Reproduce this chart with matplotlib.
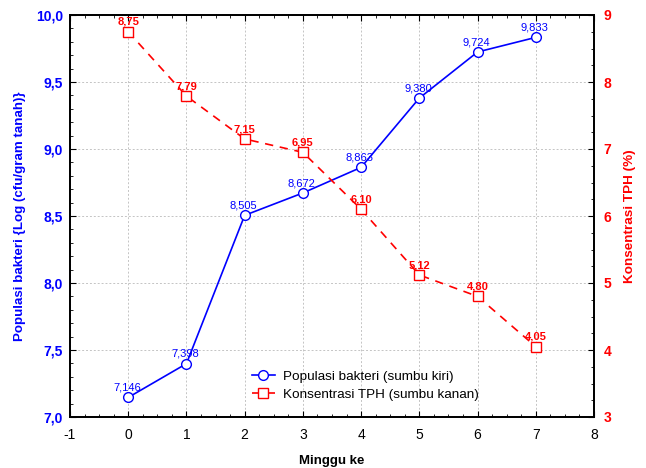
import matplotlib
matplotlib.use("Agg")
import matplotlib.pyplot as plt
from matplotlib.ticker import MultipleLocator, FuncFormatter

plt.rcParams['font.family'] = ['Liberation Sans', 'DejaVu Sans']

weeks = [0, 1, 2, 3, 4, 5, 6, 7]
bakteri = [7.146, 7.398, 8.505, 8.672, 8.863, 9.380, 9.724, 9.833]
tph = [8.75, 7.79, 7.15, 6.95, 6.10, 5.12, 4.80, 4.05]
bakteri_labels = ["7,146", "7,398", "8,505", "8,672", "8,863", "9,380", "9,724", "9,833"]
tph_labels = ["8,75", "7,79", "7,15", "6,95", "6,10", "5,12", "4,80", "4,05"]

blue = "#0000ff"
red = "#ff0000"

fig = plt.figure(figsize=(6.46, 4.68), dpi=100)
ax = fig.add_axes([70/646, 51/468, 524/646, 402/468])
ax2 = ax.twinx()

l1, = ax.plot(weeks, bakteri, '-', color=blue, lw=1.2, marker='o', ms=7,
              mfc='white', mec=blue, mew=1.0, label='Populasi bakteri (sumbu kiri)', zorder=3)
l2, = ax2.plot(weeks, tph, '--', color=red, lw=1.2, marker='s', ms=7,
               mfc='white', mec=red, mew=1.0, dashes=(5, 4),
               label='Konsentrasi TPH (sumbu kanan)', zorder=3)

for x, y, s in zip(weeks, bakteri, bakteri_labels):
    ax.annotate(s, (x, y), xytext=(-1, 3.5), textcoords='offset points',
                ha='center', va='bottom', fontsize=8, color=blue)
for x, y, s in zip(weeks, tph, tph_labels):
    ax2.annotate(s, (x, y), xytext=(0, 3.5), textcoords='offset points',
                 ha='center', va='bottom', fontsize=8, color=red, fontweight='bold')

ax.set_xlim(-1, 8)
ax.set_ylim(7.0, 10.0)
ax2.set_ylim(3, 9)

ax.xaxis.set_major_locator(MultipleLocator(1))
ax.xaxis.set_minor_locator(MultipleLocator(0.25))
ax.yaxis.set_major_locator(MultipleLocator(0.5))
ax.yaxis.set_minor_locator(MultipleLocator(0.1))
ax2.yaxis.set_major_locator(MultipleLocator(1))
ax2.yaxis.set_minor_locator(MultipleLocator(0.25))

ax.yaxis.set_major_formatter(FuncFormatter(lambda v, p: f"{v:.1f}".replace('.', ',')))
ax.xaxis.set_major_formatter(FuncFormatter(lambda v, p: f"{int(round(v))}"))
ax2.yaxis.set_major_formatter(FuncFormatter(lambda v, p: f"{int(round(v))}"))

ax.grid(True, which='major', color='#c4c4c4', ls=(0, (2, 2)), lw=0.7)
ax.set_axisbelow(True)

ax.tick_params(axis='x', which='both', direction='in', top=True, labelsize=10, colors='black', pad=8)
ax.tick_params(axis='x', which='major', length=4)
ax.tick_params(axis='x', which='minor', length=2.5)
ax.tick_params(axis='y', which='both', direction='in', labelsize=10, labelcolor=blue, pad=5)
ax.tick_params(axis='y', which='major', length=4)
ax.tick_params(axis='y', which='minor', length=2.5)
ax2.tick_params(axis='y', which='both', direction='in', labelsize=10, labelcolor=red, pad=7)
ax2.tick_params(axis='y', which='major', length=4)
ax2.tick_params(axis='y', which='minor', length=2.5)

for lab in ax.get_yticklabels():
    lab.set_fontweight('bold')
for lab in ax2.get_yticklabels():
    lab.set_fontweight('bold')

for a in (ax, ax2):
    for sp in a.spines.values():
        sp.set_linewidth(1.3)

ax.set_xlabel('Minggu ke', fontsize=9.5, fontweight='bold', labelpad=9)
ax.set_ylabel('Populasi bakteri {Log (cfu/gram tanah)}', fontsize=9.6, fontweight='bold',
              color=blue, labelpad=7)
ax2.set_ylabel('Konsentrasi TPH (%)', fontsize=9.7, fontweight='bold', color=red, labelpad=9)

ax.legend([l1, l2], [l1.get_label(), l2.get_label()], loc='upper left',
          bbox_to_anchor=(0.347, 0.115), frameon=False, fontsize=9.7,
          handlelength=1.7, handletextpad=0.6, labelspacing=0.38,
          borderpad=0.0, borderaxespad=0.0)

fig.savefig('out.png', dpi=100)
